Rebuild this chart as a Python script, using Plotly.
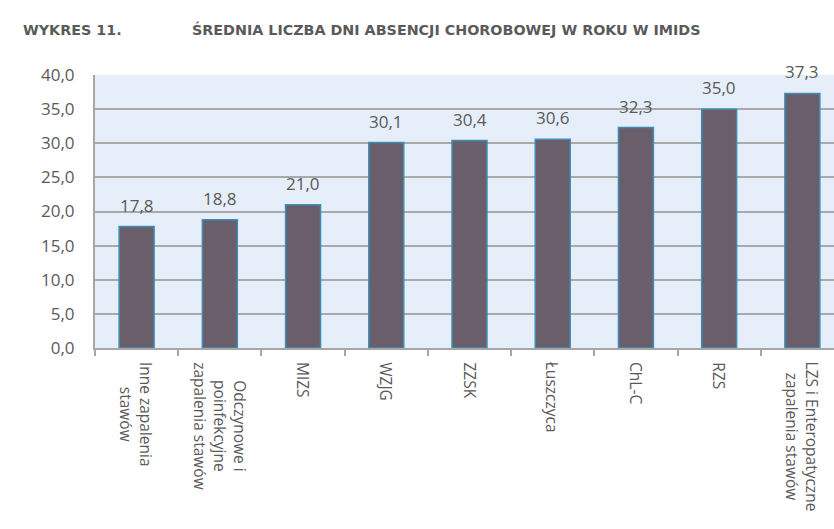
import plotly.graph_objects as go

categories = [
    "Inne zapalenia<br>stawów",
    "Odczynowe i<br>poinfekcyjne<br>zapalenia stawów",
    "MIZS",
    "WZJG",
    "ZZSK",
    "Łuszczyca",
    "ChL-C",
    "RZS",
    "LZS i Enteropatyczne<br>zapalenia stawów",
]
values = [17.8, 18.8, 21.0, 30.1, 30.4, 30.6, 32.3, 35.0, 37.3]
y_ticks = [0, 5, 10, 15, 20, 25, 30, 35, 40]

grey = "#5a5a5a"
W, H = 834, 529
l, t, b, r = 95, 75, 181, 0
pw, ph = W - l - r, H - t - b


def px_x(xp):
    return (xp - l) / pw


def px_y(yp):
    return (H - b - yp) / ph


fig = go.Figure()
fig.add_trace(go.Bar(
    x=list(range(len(categories))),
    y=values,
    width=0.42,
    marker=dict(color="#6b5e6b", line=dict(color="#3d8db5", width=1.5)),
    cliponaxis=False,
))

for i, v in enumerate(values):
    fig.add_annotation(
        x=i, y=v, xref="x", yref="y",
        text=f"{v:.1f}".replace(".", ","),
        showarrow=False, yanchor="bottom", yshift=8,
        font=dict(family="Open Sans", size=17, color=grey),
    )

# category labels, rotated, lines centred
for i, c in enumerate(categories):
    fig.add_annotation(
        x=i, y=px_y(360), xref="x", yref="paper",
        text=c, textangle=90, align="center",
        showarrow=False, yanchor="top", xanchor="center",
        font=dict(family="Open Sans", size=15.5, color=grey),
    )

title_font = dict(family="DejaVu Sans", size=14.3, color=grey)
fig.add_annotation(x=px_x(21), y=px_y(30), xref="paper", yref="paper",
                   text="<b>WYKRES 11.</b>", showarrow=False,
                   xanchor="left", yanchor="middle", font=title_font)
fig.add_annotation(x=px_x(190), y=px_y(30), xref="paper", yref="paper",
                   text="<b>ŚREDNIA LICZBA DNI ABSENCJI CHOROBOWEJ W ROKU W IMIDS</b>",
                   showarrow=False, xanchor="left", yanchor="middle", font=title_font)

fig.update_layout(
    width=W, height=H,
    margin=dict(l=l, r=r, t=t, b=b),
    plot_bgcolor="#e5eef9",
    paper_bgcolor="white",
    showlegend=False,
    separators=", ",
)
fig.update_xaxes(
    tickmode="array",
    tickvals=list(range(len(categories))),
    ticktext=[""] * len(categories),
    range=[-0.5, len(categories) - 0.5 - 10 / 83.3],
    showgrid=False,
    showline=True, linecolor="#a6a6a6", linewidth=2,
    ticks="",
    minor=dict(tickvals=[i + 0.5 for i in range(-1, len(categories))],
               ticks="outside", ticklen=6, tickcolor="#a6a6a6", tickwidth=2),
)
fig.update_yaxes(
    range=[0, 40],
    tickvals=y_ticks,
    tickformat=".1f",
    tickfont=dict(family="Open Sans", size=17, color=grey),
    showgrid=True, gridcolor="#a9a9a9", gridwidth=2,
    showline=True, linecolor="#a6a6a6", linewidth=2,
    zeroline=False,
    ticks="",
    ticklabelstandoff=15,
)

fig.write_html("out.html")
